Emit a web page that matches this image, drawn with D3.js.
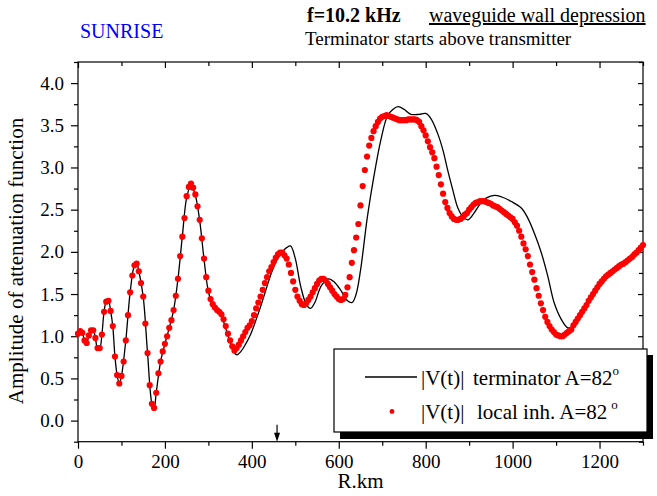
<!DOCTYPE html>
<head>
    <meta charset="utf-8">
    <script src="https://d3js.org/d3.v7.min.js"></script>
    <style>
        body { margin: 0; background: #fff; }
        svg text { font-family: "Liberation Serif", "Times New Roman", serif; fill: #000; }
        .axis path { display: none; }
        .axis line { stroke: #000; stroke-width: 1.2px; }
        .axis text { font-size: 19px; }
    </style>
</head>
<body>
<svg id="svg" width="657" height="496"></svg>
<script>
// terminator curve (R km, |V|)
const blackR = [0,5,10,15,20,25,30,35,40,45,50,55,60,65,70,75,80,85,90,95,100,110,120,130,135,140,150,160,170,175,180,190,200,210,220,230,240,250,260,270,280,290,300,310,320,330,340,350,360,366,375,385,397,410,420,433,445,458,470,480,489,500,512,525,535,545,560,577,590,604,620,631,640,650,666,681,697,712,725,737,750,766,785,800,812,827,840,850,862,874,885,897,910,927,940,958,975,996,1020,1035,1050,1066,1081,1096,1112,1127,1140,1150,1170,1189,1205,1220,1240,1270,1300];
const blackV = [1.03,1.06,1.04,0.95,0.92,1.01,1.07,1.07,0.98,0.86,0.86,1.02,1.29,1.41,1.42,1.30,1.12,0.76,0.54,0.44,0.53,0.95,1.52,1.84,1.86,1.77,1.47,0.80,0.20,0.14,0.33,0.70,0.91,1.10,1.31,1.68,2.18,2.64,2.79,2.67,2.37,1.91,1.53,1.37,1.30,1.24,1.09,0.93,0.80,0.78,0.82,0.90,1.02,1.20,1.35,1.56,1.75,1.91,2.00,2.05,2.07,1.92,1.60,1.38,1.33,1.40,1.60,1.68,1.64,1.55,1.42,1.40,1.50,1.78,2.42,2.90,3.33,3.61,3.69,3.72,3.69,3.63,3.63,3.64,3.58,3.41,3.20,2.98,2.74,2.52,2.42,2.38,2.45,2.58,2.64,2.67,2.65,2.60,2.52,2.40,2.22,1.99,1.71,1.39,1.20,1.10,1.12,1.18,1.35,1.51,1.62,1.71,1.80,1.92,2.08];

// local inhomogeneity, one point every 5 km from 0 to 1300 km
const redStep = 5;
const redV = [
    1.03,1.06,1.04,0.95,0.92,1.01,1.07,1.07,0.98,0.86,
    0.86,1.02,1.29,1.41,1.42,1.30,1.12,0.76,0.54,0.44,
    0.53,0.70,0.95,1.25,1.52,1.72,1.84,1.86,1.77,1.63,
    1.47,1.15,0.80,0.42,0.20,0.15,0.33,0.56,0.70,0.82,
    0.91,1.00,1.10,1.19,1.31,1.48,1.68,1.95,2.18,2.40,
    2.66,2.77,2.81,2.76,2.68,2.54,2.38,2.16,1.92,1.70,
    1.54,1.44,1.38,1.34,1.31,1.29,1.26,1.20,1.12,1.03,
    0.95,0.88,0.83,0.86,0.90,0.95,1.00,1.05,1.10,1.13,
    1.18,1.25,1.33,1.40,1.47,1.55,1.63,1.70,1.77,1.82,
    1.88,1.93,1.97,1.99,1.99,1.96,1.92,1.85,1.75,1.65,
    1.55,1.47,1.42,1.38,1.37,1.39,1.43,1.47,1.52,1.57,
    1.62,1.66,1.68,1.68,1.66,1.62,1.58,1.54,1.50,1.47,
    1.44,1.43,1.44,1.49,1.58,1.70,1.87,2.02,2.17,2.33,
    2.55,2.78,2.97,3.13,3.26,3.35,3.43,3.49,3.54,3.58,
    3.60,3.61,3.62,3.61,3.60,3.59,3.58,3.57,3.56,3.56,
    3.56,3.56,3.57,3.57,3.57,3.57,3.56,3.54,3.49,3.44,
    3.38,3.31,3.24,3.18,3.11,3.01,2.91,2.80,2.69,2.59,
    2.52,2.46,2.42,2.39,2.38,2.38,2.39,2.41,2.44,2.46,
    2.50,2.53,2.56,2.58,2.59,2.60,2.60,2.60,2.59,2.58,
    2.57,2.55,2.54,2.53,2.51,2.49,2.47,2.45,2.43,2.41,
    2.39,2.35,2.31,2.25,2.18,2.10,2.03,1.95,1.85,1.76,
    1.67,1.57,1.48,1.39,1.31,1.23,1.17,1.12,1.08,1.05,
    1.02,1.01,1.00,1.00,1.02,1.04,1.06,1.08,1.13,1.17,
    1.21,1.25,1.29,1.33,1.37,1.42,1.46,1.50,1.54,1.58,
    1.62,1.65,1.68,1.71,1.73,1.75,1.77,1.79,1.81,1.83,
    1.85,1.86,1.88,1.90,1.92,1.94,1.97,1.99,2.02,2.05,
    2.08];

const xMajor = [0,200,400,600,800,1000,1200];
const xMinor = [100,300,500,700,900,1100,1300];
const yMajor = [0,0.5,1,1.5,2,2.5,3,3.5,4];
const yMinor = [-0.25,0.25,0.75,1.25,1.75,2.25,2.75,3.25,3.75,4.25];
const arrowR = 458;

const svg = d3.select("#svg");
const mLeft = 78, mRight = 643, mTop = 62, mBottom = 441.7;

const x = d3.scaleLinear().domain([0, 1300]).range([mLeft, mRight]);
const y = d3.scaleLinear().domain([-0.25, 4.25]).range([mBottom, mTop]);

// axes: bottom/left ticks outwards, top/right inwards
svg.append("g").attr("class", "axis").attr("transform", "translate(0," + mBottom + ")")
    .call(d3.axisBottom(x).tickValues(xMajor).tickSize(7).tickPadding(6).tickFormat(d3.format("d")));
svg.append("g").attr("class", "axis").attr("transform", "translate(0," + mBottom + ")")
    .call(d3.axisBottom(x).tickValues(xMinor).tickSize(4).tickFormat(""));
svg.append("g").attr("class", "axis").attr("transform", "translate(0," + mTop + ")")
    .call(d3.axisTop(x).tickValues(xMajor).tickSize(-6).tickFormat(""));
svg.append("g").attr("class", "axis").attr("transform", "translate(0," + mTop + ")")
    .call(d3.axisTop(x).tickValues(xMinor).tickSize(-4).tickFormat(""));

svg.append("g").attr("class", "axis").attr("transform", "translate(" + mLeft + ",0)")
    .call(d3.axisLeft(y).tickValues(yMajor).tickSize(7).tickPadding(7).tickFormat(d3.format(".1f")));
svg.append("g").attr("class", "axis").attr("transform", "translate(" + mLeft + ",0)")
    .call(d3.axisLeft(y).tickValues(yMinor).tickSize(4).tickFormat(""));
svg.append("g").attr("class", "axis").attr("transform", "translate(" + mRight + ",0)")
    .call(d3.axisRight(y).tickValues(yMajor).tickSize(-5).tickFormat(""));
svg.append("g").attr("class", "axis").attr("transform", "translate(" + mRight + ",0)")
    .call(d3.axisRight(y).tickValues(yMinor).tickSize(-4).tickFormat(""));

svg.append("rect")
    .attr("x", mLeft).attr("y", mTop)
    .attr("width", mRight - mLeft).attr("height", mBottom - mTop)
    .attr("fill", "none").attr("stroke", "#000").attr("stroke-width", 1.2);

// curves
const blackPts = blackR.map((r, i) => [r, blackV[i]]);
svg.append("path")
    .datum(blackPts)
    .attr("fill", "none")
    .attr("stroke", "#000")
    .attr("stroke-width", 1.3)
    .attr("d", d3.line().x(d => x(d[0])).y(d => y(d[1])).curve(d3.curveCatmullRom.alpha(0.5)));

svg.append("g").selectAll("circle")
    .data(redV)
    .enter().append("circle")
    .attr("cx", (d, i) => x(i * redStep))
    .attr("cy", d => y(d))
    .attr("r", 3.1)
    .attr("fill", "#ff0000");

// arrow on the distance axis
svg.append("line")
    .attr("x1", x(arrowR)).attr("x2", x(arrowR))
    .attr("y1", mBottom - 17).attr("y2", mBottom - 6)
    .attr("stroke", "#000").attr("stroke-width", 1.2);
svg.append("path")
    .attr("d", "M" + (x(arrowR) - 3) + "," + (mBottom - 9) + "L" + (x(arrowR) + 3) + "," + (mBottom - 9) + "L" + x(arrowR) + "," + mBottom + "Z")
    .attr("fill", "#000");

// axis titles
svg.append("text")
    .attr("x", (mLeft + mRight) / 2).attr("y", 488)
    .attr("text-anchor", "middle").style("font-size", "21px")
    .text("R.km");
svg.append("text")
    .attr("transform", "translate(23,261) rotate(-90)")
    .attr("text-anchor", "middle").style("font-size", "21px")
    .text("Amplitude of attenuation function");

// header texts
svg.append("text").attr("x", 80).attr("y", 38)
    .style("font-size", "20px").style("fill", "#0000ff")
    .text("SUNRISE");
svg.append("text").attr("x", 307).attr("y", 22)
    .style("font-size", "20px").style("font-weight", "bold")
    .text("f=10.2 kHz");
svg.append("text").attr("x", 429).attr("y", 22)
    .style("font-size", "20px").style("text-decoration", "underline")
    .text("waveguide wall depression");
svg.append("text").attr("x", 305).attr("y", 45)
    .style("font-size", "19px")
    .text("Terminator starts above transmitter");

// legend with drop shadow
const lg = svg.append("g");
lg.append("rect").attr("x", 340).attr("y", 355).attr("width", 313).attr("height", 84).attr("fill", "#000");
lg.append("rect").attr("x", 334).attr("y", 349).attr("width", 313).attr("height", 83)
    .attr("fill", "#fff").attr("stroke", "#000").attr("stroke-width", 1.2);
lg.append("line").attr("x1", 365).attr("x2", 417).attr("y1", 377).attr("y2", 377)
    .attr("stroke", "#000").attr("stroke-width", 1.3);
lg.append("circle").attr("cx", 392).attr("cy", 411.5).attr("r", 2.4).attr("fill", "#ff0000");

const row1 = lg.append("text").attr("x", 421).attr("y", 385).style("font-size", "21px");
row1.append("tspan").text("|V(t)|");
row1.append("tspan").attr("x", 473).text("terminator A=82");
row1.append("tspan").attr("dy", -10).style("font-size", "13px").text("o");

const row2 = lg.append("text").attr("x", 421).attr("y", 419).style("font-size", "21px");
row2.append("tspan").text("|V(t)|");
row2.append("tspan").attr("x", 477).text("local inh. A=82");
row2.append("tspan").attr("dx", 4).attr("dy", -10).style("font-size", "13px").text("o");
</script>
</body>
